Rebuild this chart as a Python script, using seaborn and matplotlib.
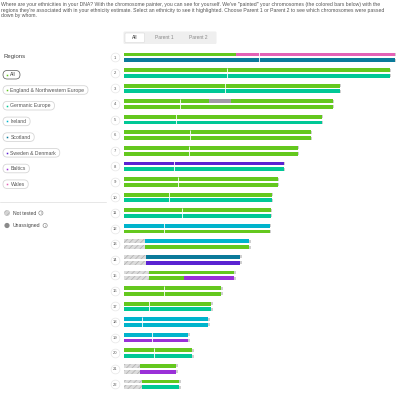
import numpy as np
import pandas as pd
import matplotlib
matplotlib.use("Agg")
import matplotlib.pyplot as plt
from matplotlib.patches import FancyBboxPatch, Circle
import seaborn as sns

# ---- data ----
header_lines = [
    "Where are your ethnicities in your DNA? With the chromosome painter, you can see for yourself. We've \"painted\" your chromosomes (the colored bars below) with the",
    "regions they're associated with in your ethnicity estimate. Select an ethnicity to see it highlighted. Choose Parent 1 or Parent 2 to see which chromosomes were passed",
    "down by whom.",
]
tabs = ["All", "Parent 1", "Parent 2"]

regions = ["England & Northwestern Europe", "Germanic Europe", "Ireland", "Scotland",
           "Sweden & Denmark", "Baltics", "Wales"]
region_codes = ["ENG", "GER", "IRE", "SCO", "SWE", "BAL", "WAL"]
region_colors = ["#64c81e", "#00c896", "#00b4cc", "#0a7a9a", "#5b22d2", "#9a30d8", "#e462b6"]
unassigned_color = "#a09ca6"

chromosomes = [str(i) for i in range(1, 23)]
lengths = [271, 266, 216, 209, 198, 187, 174, 160, 154, 148, 147, 146,
           125, 116, 110, 97, 87, 84, 64, 68, 52, 55]
not_tested = [0, 0, 0, 0, 0, 0, 0, 0, 0, 0, 0, 0, 21, 22, 25, 0, 0, 0, 0, 0, 16, 18]
centromeres = [134.5, 103, 100.5, 56, 52, 66, 65, 49.5, 53.5, 45, 58, 40,
               None, None, None, 40, 25, 18, 28, 30, None, None]

# segments per chromosome copy: (region code, start, end)
copy1 = [
    [("ENG", 0, 112), ("WAL", 112, 271)],
    [("ENG", 0, 266)],
    [("ENG", 0, 216)],
    [("ENG", 0, 85), ("UNA", 85, 107), ("ENG", 107, 209)],
    [("ENG", 0, 198)],
    [("ENG", 0, 187)],
    [("ENG", 0, 174)],
    [("SWE", 0, 160)],
    [("ENG", 0, 154)],
    [("ENG", 0, 148)],
    [("ENG", 0, 147)],
    [("IRE", 0, 146)],
    [("IRE", 21, 125)],
    [("SCO", 22, 116)],
    [("ENG", 25, 110)],
    [("ENG", 0, 97)],
    [("ENG", 0, 87)],
    [("IRE", 0, 84)],
    [("IRE", 0, 64)],
    [("ENG", 0, 68)],
    [("ENG", 16, 52)],
    [("ENG", 18, 55)],
]
copy2 = [
    [("SCO", 0, 271)],
    [("GER", 0, 266)],
    [("GER", 0, 216)],
    [("ENG", 0, 209)],
    [("GER", 0, 198)],
    [("ENG", 0, 187)],
    [("ENG", 0, 174)],
    [("GER", 0, 160)],
    [("ENG", 0, 154)],
    [("GER", 0, 148)],
    [("GER", 0, 147)],
    [("ENG", 0, 146)],
    [("ENG", 21, 125)],
    [("SWE", 22, 116)],
    [("ENG", 25, 60), ("BAL", 60, 110)],
    [("ENG", 0, 97)],
    [("GER", 0, 87)],
    [("IRE", 0, 84)],
    [("BAL", 0, 64)],
    [("GER", 0, 68)],
    [("BAL", 16, 52)],
    [("GER", 18, 55)],
]

rows = []
for copy_no, copies in [(1, copy1), (2, copy2)]:
    for i, segs in enumerate(copies):
        for code, s, e in segs:
            rows.append({"chrom": i + 1, "copy": copy_no, "code": code, "start": s, "end": e})
seg_df = pd.DataFrame(rows)

color_map = dict(zip(region_codes, region_colors))
color_map["UNA"] = unassigned_color

# ---- figure ----
sns.set_theme(style="white")
plt.rcParams['font.family'] = ['Liberation Sans', 'DejaVu Sans']
plt.rcParams['hatch.linewidth'] = 0.6

fig = plt.figure(figsize=(4, 3.94), dpi=100)
bg = fig.add_axes([0, 0, 1, 1])
bg.set_xlim(0, 400)
bg.set_ylim(394, 0)
bg.axis('off')
fig.canvas.draw()
renderer = fig.canvas.get_renderer()

# header
for k, line in enumerate(header_lines):
    bg.text(1, 4.5 + k * 5.5, line, fontsize=3.72, color="#555555", va="center", ha="left")

# tabs
bg.add_patch(FancyBboxPatch((123.5, 31.5), 93, 12.5, boxstyle="round,pad=0,rounding_size=1.2",
                            fc="#efefef", ec="none"))
bg.add_patch(FancyBboxPatch((125, 33), 19.5, 9.5, boxstyle="round,pad=0,rounding_size=1",
                            fc="white", ec="#d9d9d9", lw=0.4))
for x, t, c in zip([134.7, 164.3, 198.7], tabs, ["#333333", "#888888", "#888888"]):
    bg.text(x, 37.6, t, fontsize=3.5, color=c, ha="center", va="center")

# left panel
bg.text(4, 56.5, "Regions", fontsize=4.3, color="#444444", va="center")
bg.add_patch(FancyBboxPatch((3, 70.5), 17, 8.5, boxstyle="round,pad=0,rounding_size=4.2",
                            fc="white", ec="#555555", lw=0.5))
bg.plot(7.3, 74.7, marker="s", ms=1.1, color="#64c81e", mew=0)
bg.text(10, 74.8, "All", fontsize=3.6, color="#333333", va="center")

for i, (name, col) in enumerate(zip(regions, region_colors)):
    y = 90 + i * 15.7
    t = bg.text(10.5, y + 0.2, name, fontsize=3.7, color="#555555", va="center", zorder=3)
    bb = t.get_window_extent(renderer)
    x1 = bg.transData.inverted().transform((bb.x1, bb.y1))[0]
    bg.add_patch(FancyBboxPatch((3, y - 4.3), x1 + 3.5 - 3, 8.6,
                                boxstyle="round,pad=0,rounding_size=4.2",
                                fc="white", ec="#d6d6d6", lw=0.6, zorder=1))
    bg.plot(7.3, y, marker="s", ms=1.1, color=col, mew=0, zorder=3)

bg.plot([0, 106], [201.5, 201.5], color="#e3e3e3", lw=0.6)

bg.add_patch(Circle((7, 213), 2.6, fc="#d4d4d4", ec="#b3b3b3", lw=0.3, hatch="//////"))
t = bg.text(13, 213.2, "Not tested", fontsize=3.7, color="#444444", va="center")
x1 = bg.transData.inverted().transform((t.get_window_extent(renderer).x1, 0))[0]
bg.add_patch(Circle((x1 + 4.5, 213), 2.1, fc="white", ec="#777777", lw=0.4))
bg.text(x1 + 4.5, 213.2, "i", fontsize=2.6, color="#777777", ha="center", va="center")

bg.add_patch(Circle((7, 225.5), 2.6, fc="#8a8a8a", ec="none"))
t = bg.text(13, 225.7, "Unassigned", fontsize=3.7, color="#444444", va="center")
x1 = bg.transData.inverted().transform((t.get_window_extent(renderer).x1, 0))[0]
bg.add_patch(Circle((x1 + 4.5, 225.5), 2.1, fc="white", ec="#777777", lw=0.4))
bg.text(x1 + 4.5, 225.7, "i", fontsize=2.6, color="#777777", ha="center", va="center")

# chromosome bars
ax = fig.add_axes([124.3 / 400, 1.9 / 394, 272 / 400, 342.6 / 394])
ax.set_xlim(0, 272)
ax.set_ylim(22.5, 0.5)
ax.axis('off')

offsets = {1: -0.18, 2: 0.186}
bar_h = 0.245
for _, r in seg_df.iterrows():
    ax.barh(r["chrom"] + offsets[r["copy"]], r["end"] - r["start"], left=r["start"],
            height=bar_h, color=color_map[r["code"]], linewidth=0)

chrom_pos = np.arange(1, 23)
for pos, nt in zip(chrom_pos, not_tested):
    if nt > 0:
        for cp in (1, 2):
            ax.barh(pos + offsets[cp], nt, left=0, height=bar_h, color="#dcdcdc",
                    edgecolor="#b5b5b5", hatch="//////", linewidth=0)

# small grey tips at the bar ends
for pos, ln in zip(chrom_pos, lengths):
    for cp in (1, 2):
        ax.barh(pos + offsets[cp], 1.2, left=ln, height=bar_h * 0.8, color="#cfcfcf", linewidth=0)

for pos, c in zip(chrom_pos, centromeres):
    if c is not None:
        ax.vlines(c, pos - 0.33, pos + 0.33, color="white", lw=0.6)

ax.scatter(np.full(22, -9.3), chrom_pos, s=40, c="white", edgecolors="#e6e6e6",
           linewidths=0.5, clip_on=False, zorder=3)
for pos, lab in zip(chrom_pos, chromosomes):
    ax.text(-9.3, pos + 0.02, lab, fontsize=3.0, color="#555555", ha="center", va="center",
            zorder=4, clip_on=False)

fig.savefig("out.png", dpi=100)
